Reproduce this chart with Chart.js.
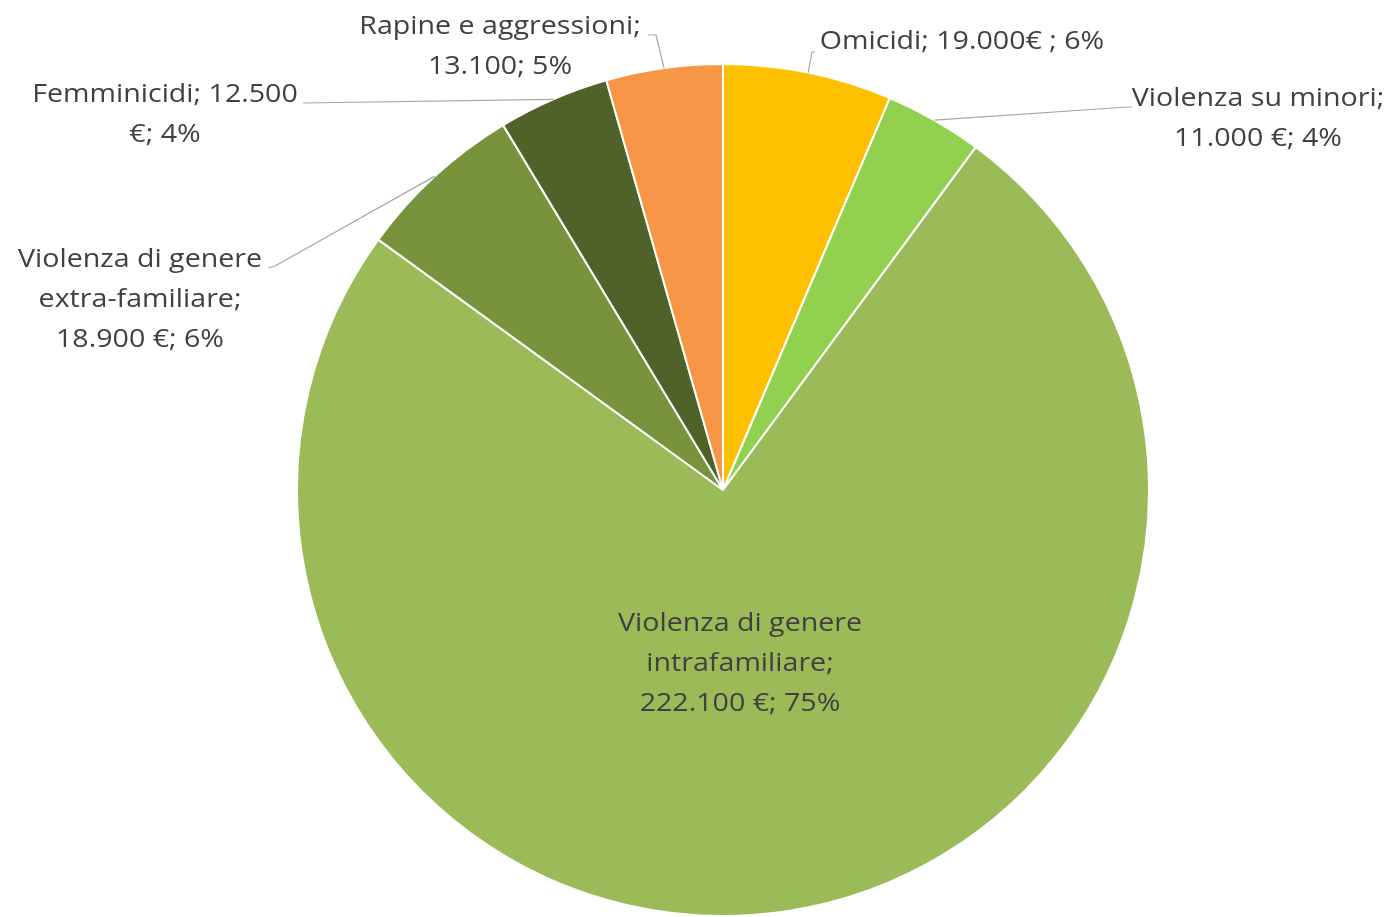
<!DOCTYPE html>
<html><head><meta charset="utf-8">
<script src="https://cdn.jsdelivr.net/npm/chart.js@4"></script>
<style>html,body{margin:0;padding:0;background:#fff;}canvas{display:block;}</style>
</head><body>
<canvas id="c" width="1393" height="917"></canvas>
<script>
const categories = ["Omicidi","Violenza su minori","Violenza di genere intrafamiliare","Violenza di genere extra-familiare","Femminicidi","Rapine e aggressioni"];
const values = [19000, 11000, 222100, 18900, 12500, 13100];
const labelTexts = [
  ["Omicidi; 19.000€ ; 6%"],
  ["Violenza su minori;","11.000 €; 4%"],
  ["Violenza di genere","intrafamiliare;","222.100 €; 75%"],
  ["Violenza di genere","extra-familiare;","18.900 €; 6%"],
  ["Femminicidi; 12.500","€; 4%"],
  ["Rapine e aggressioni;","13.100; 5%"]
];
const colors = ["#FFC000","#92D050","#9BBB59","#77933C","#4F6228","#F79646"];

// label layout: text centre x, first line y, leader path after the slice edge point
const labelLayout = [
  {x:962, y:42, path:[[812,52],[815,52]]},
  {x:1258, y:99, path:[[1128,107],[1132,107]]},
  {x:740, y:624, path:null},
  {x:140, y:260, path:[[275,266],[268,268]]},
  {x:165, y:95, path:[[303,103]]},
  {x:500, y:27, path:[[656,35],[648,35]]}
];

const labelPlugin = {
  id:'pieLabels',
  afterDatasetsDraw(chart){
    const ctx = chart.ctx;
    const meta = chart.getDatasetMeta(0);
    ctx.save();
    meta.data.forEach((arc,i)=>{
      const p = arc.getProps(['x','y','startAngle','endAngle','outerRadius'],true);
      const mid = (p.startAngle+p.endAngle)/2;
      const L = labelLayout[i];
      if(L.path){
        ctx.beginPath();
        ctx.strokeStyle = '#A6A6A6';
        ctx.lineWidth = 1.2;
        ctx.moveTo(p.x+Math.cos(mid)*p.outerRadius, p.y+Math.sin(mid)*p.outerRadius);
        L.path.forEach(pt=>ctx.lineTo(pt[0],pt[1]));
        ctx.stroke();
      }
      ctx.fillStyle = '#404040';
      ctx.font = '26px "Open Sans"';
      ctx.textAlign = 'center';
      ctx.textBaseline = 'middle';
      labelTexts[i].forEach((t,k)=>{
        ctx.save();
        ctx.translate(L.x, L.y+k*40);
        ctx.scale(1.1,1);
        ctx.fillText(t,0,0);
        ctx.restore();
      });
    });
    ctx.restore();
  }
};

new Chart(document.getElementById('c'),{
  type:'pie',
  data:{labels:categories,datasets:[{data:values,backgroundColor:colors,borderColor:'#FFFFFF',borderWidth:2}]},
  options:{
    responsive:false,
    animation:false,
    devicePixelRatio:1,
    layout:{padding:{top:63,bottom:-2,left:295,right:242}},
    plugins:{legend:{display:false},tooltip:{enabled:false}}
  },
  plugins:[labelPlugin]
});
</script>
</body></html>
